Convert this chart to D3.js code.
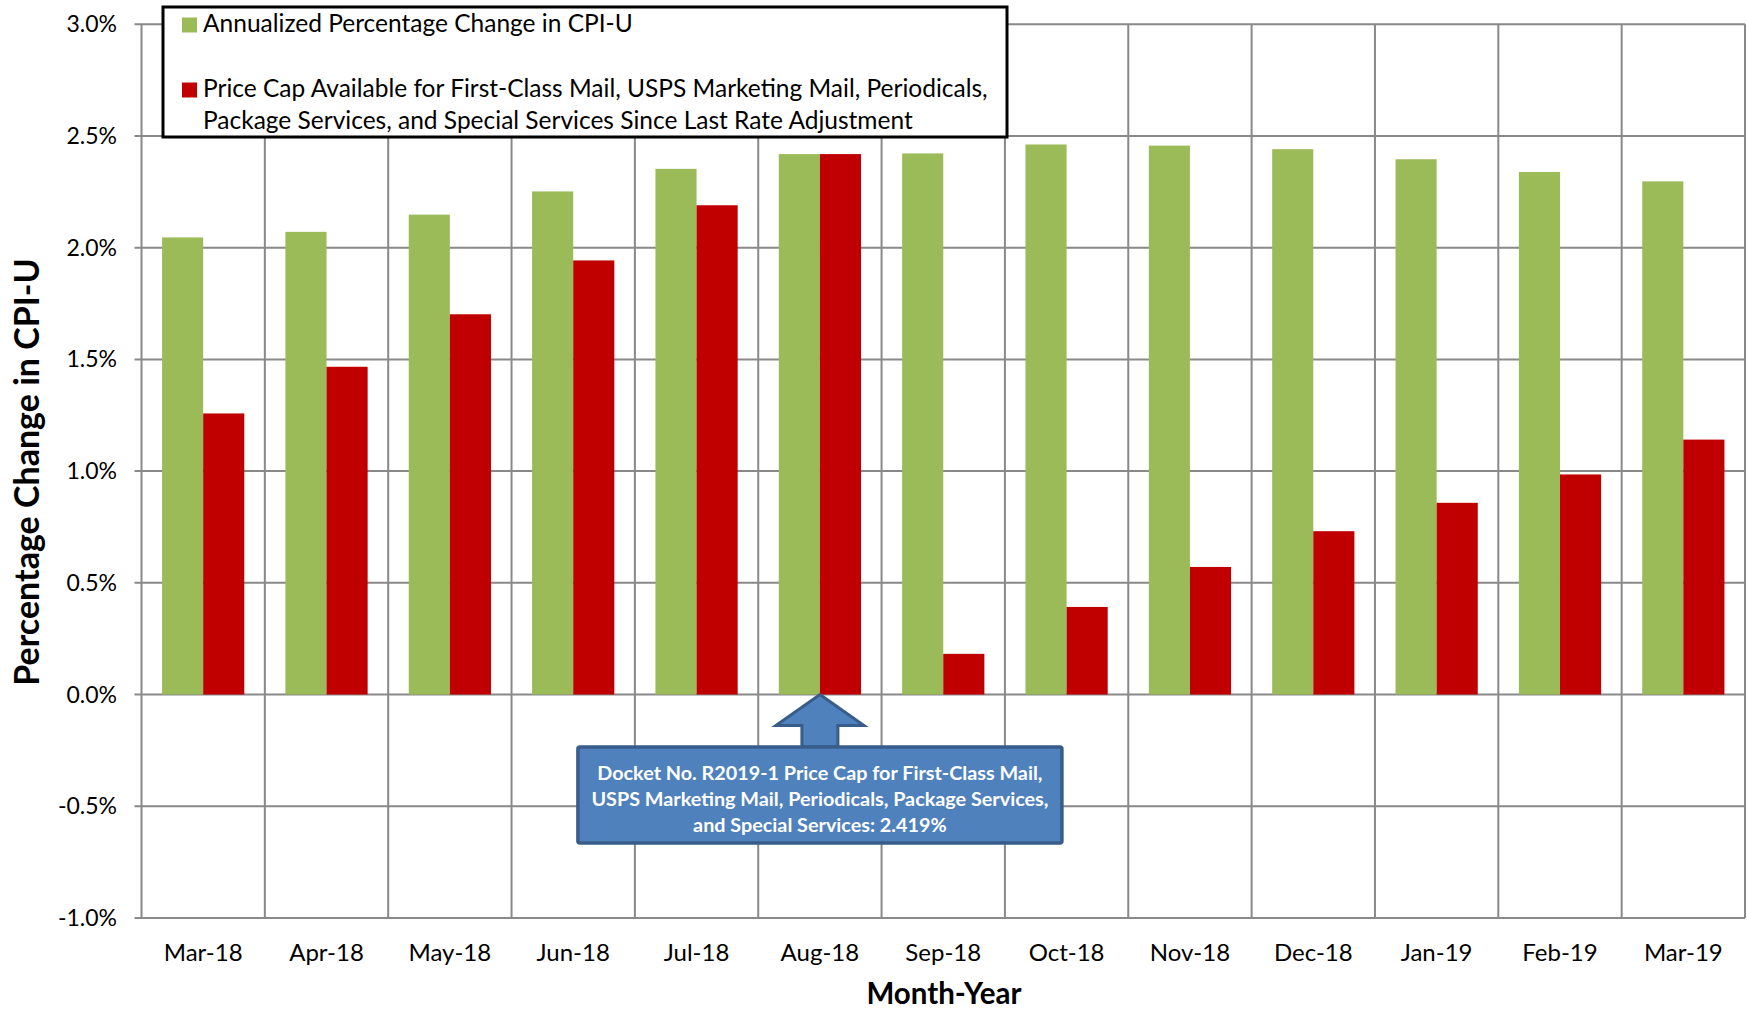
<!DOCTYPE html>
<html><head><meta charset="utf-8">
<script src="https://cdn.jsdelivr.net/npm/d3@7"></script>
<style>body{margin:0;background:#fff;} svg{display:block;font-family:Lato,'Open Sans',sans-serif;}</style>
</head><body><svg id="c" width="1747" height="1010"></svg>
<script>
const months = ["Mar-18","Apr-18","May-18","Jun-18","Jul-18","Aug-18","Sep-18","Oct-18","Nov-18","Dec-18","Jan-19","Feb-19","Mar-19"];
const cpiChange = [2.046,2.071,2.148,2.252,2.353,2.419,2.422,2.462,2.457,2.441,2.396,2.339,2.297];
const priceCap = [1.258,1.467,1.702,1.943,2.190,2.419,0.182,0.392,0.571,0.731,0.858,0.985,1.141];
const yTicks = [-1.0,-0.5,0.0,0.5,1.0,1.5,2.0,2.5,3.0];
const seriesNames = ["Annualized Percentage Change in CPI-U",
  "Price Cap Available for First-Class Mail, USPS Marketing Mail, Periodicals, Package Services, and Special Services Since Last Rate Adjustment"];
const annotationLines = ["Docket No. R2019-1 Price Cap for First-Class Mail,",
  "USPS Marketing Mail, Periodicals, Package Services,",
  "and Special Services: 2.419%"];
const colors = ["#9BBB59","#C00000"];

const svg = d3.select("#c");
const L=141.5, R=1745, T=24.3, B=917.9;
const x = d3.scaleBand().domain(months).range([L,R]).padding(0);
const bw = x.bandwidth();
const xs = d3.scaleBand().domain([0,1]).range([bw/6, bw*5/6]).padding(0);
const y = d3.scaleLinear().domain([-1,3]).range([B,T]);
const grid = "#898989";

// horizontal gridlines
svg.append("g").selectAll("line").data(yTicks).join("line")
  .attr("x1",L-7).attr("x2",R).attr("y1",d=>y(d)).attr("y2",d=>y(d))
  .attr("stroke",grid).attr("stroke-width",2);
// vertical gridlines
const bounds = months.map(m=>x(m)).concat([R]);
svg.append("g").selectAll("line").data(bounds).join("line")
  .attr("x1",d=>d).attr("x2",d=>d).attr("y1",T).attr("y2",B)
  .attr("stroke",grid).attr("stroke-width",2);

// y tick labels
svg.append("g").selectAll("text").data(yTicks).join("text")
  .attr("x",117).attr("y",d=>y(d)).attr("dy","0.35em").attr("text-anchor","end")
  .attr("font-size",23).attr("fill","#000").text(d=>d.toFixed(1)+"%");
// x labels
svg.append("g").selectAll("text").data(months).join("text")
  .attr("x",d=>x(d)+bw/2).attr("y",961).attr("text-anchor","middle")
  .attr("font-size",24).attr("fill","#000").text(d=>d);

// bars
const series = [cpiChange, priceCap];
series.forEach((vals,si)=>{
  svg.append("g").selectAll("rect").data(vals).join("rect")
    .attr("x",(d,i)=>x(months[i])+xs(si)).attr("width",xs.bandwidth())
    .attr("y",d=>y(Math.max(0,d))).attr("height",d=>Math.abs(y(d)-y(0)))
    .attr("fill",colors[si]);
});

// axis titles
svg.append("text").attr("x",944).attr("y",1004).attr("text-anchor","middle")
  .attr("font-size",29.5).attr("font-weight","bold").text("Month-Year");
svg.append("text").attr("transform","translate(39,472) rotate(-90)")
  .attr("text-anchor","middle").attr("font-size",34).attr("font-weight","bold")
  .text("Percentage Change in CPI-U");

// legend
const lg = svg.append("g");
lg.append("rect").attr("x",163).attr("y",7).attr("width",844).attr("height",130)
  .attr("fill","#fff").attr("stroke","#000").attr("stroke-width",3);
lg.append("rect").attr("x",182).attr("y",17.5).attr("width",15).attr("height",15).attr("fill",colors[0]);
lg.append("text").attr("x",203).attr("y",32).attr("font-size",24.5).text(seriesNames[0]);
lg.append("rect").attr("x",182).attr("y",82.5).attr("width",15).attr("height",15).attr("fill",colors[1]);
const t2 = lg.append("text").attr("font-size",24.5);
t2.append("tspan").attr("x",203).attr("y",97).text("Price Cap Available for First-Class Mail, USPS Marketing Mail, Periodicals,");
t2.append("tspan").attr("x",203).attr("y",128.5).text("Package Services, and Special Services Since Last Rate Adjustment");

// annotation
const cx = x("Aug-18")+bw/2, ty = y(0);
const ag = svg.append("g");
const boxTop = 747, boxBot = 843, boxW = 484;
const arrow = [[cx,ty],[cx+44,ty+31],[cx+18,ty+31],[cx+18,boxTop],[cx-18,boxTop],[cx-18,ty+31],[cx-44,ty+31]];
ag.append("path").attr("d",d3.line()(arrow)+"Z").attr("fill","#4F81BD").attr("stroke","#385D8A").attr("stroke-width",3);
ag.append("rect").attr("x",cx-boxW/2).attr("y",boxTop).attr("width",boxW).attr("height",boxBot-boxTop)
  .attr("fill","#4F81BD").attr("stroke","#385D8A").attr("stroke-width",3.5).attr("rx",2);
const at = ag.append("text").attr("text-anchor","middle").attr("font-size",19.8).attr("font-weight","bold").attr("fill","#fff");
annotationLines.forEach((l,i)=>at.append("tspan").attr("x",cx).attr("y",780+i*26).text(l));
</script></body></html>
